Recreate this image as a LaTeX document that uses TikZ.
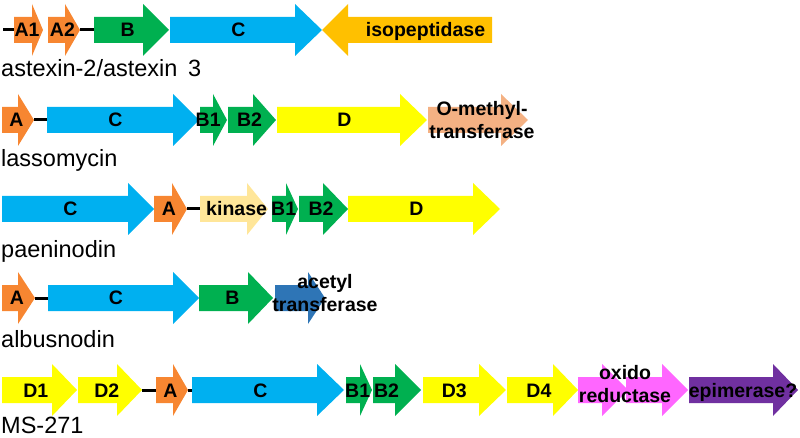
\documentclass[tikz,border=0pt]{standalone}
\usepackage{fontspec}
\usepackage{xcolor}
\usepackage{tikz}
\usetikzlibrary{calc}

\newfontfamily\arialfont{Liberation Sans}
\newcommand{\genefont}{\arialfont\bfseries\fontsize{19.5}{23}\selectfont}
\newcommand{\rowfont}{\arialfont\fontsize{23.5}{26}\selectfont}

\definecolor{geneA}{RGB}{247,134,49}
\definecolor{geneB}{RGB}{0,176,80}
\definecolor{geneC}{RGB}{0,176,240}
\definecolor{geneD}{RGB}{255,255,0}
\definecolor{isopep}{RGB}{255,192,0}
\definecolor{methyl}{RGB}{244,177,131}
\definecolor{kinase}{RGB}{255,230,153}
\definecolor{acetyl}{RGB}{46,117,182}
\definecolor{oxred}{RGB}{255,102,255}
\definecolor{epimer}{RGB}{112,48,160}

\tikzset{
  genetxt/.style={font=\genefont, text=black, inner sep=0pt, text height=14pt, text depth=0pt},
  multitxt/.style={font=\genefont, text=black, inner sep=0pt, align=center},
  rowlbl/.style={font=\rowfont, text=black, inner sep=0pt, anchor=base west},
  link/.style={line width=3pt, black}
}

% #2 name, #3 tail, #4 neck, #5 tip, #6 row, #7 colour, #8 text
\newcommand{\gene}[8][]{%
  \fill[#7] (#3,#6-13) -- (#4,#6-13) -- (#4,#6-26) -- (#5,#6)
    -- (#4,#6+26) -- (#4,#6+13) -- (#3,#6+13) -- cycle;
  \coordinate (#2-tail) at (#3,#6);
  \coordinate (#2-tip) at (#5,#6);
  \node[genetxt,#1] (#2) at ($(#2-tail)!0.45!(#2-tip)$) {#8};
}

\begin{document}
\begin{tikzpicture}[x=1pt, y=-1pt]
\useasboundingbox (0,0) rectangle (800,438);

\coordinate (astStart) at (3,30);
\gene{astA1}{14}{32}{43}{30}{geneA}{A1}
\gene{astA2}{48}{65}{80}{30}{geneA}{A2}
\gene{astB}{94}{143}{169}{30}{geneB}{B}
\gene{astC}{170}{295}{322}{30}{geneC}{C}
\gene[xshift=10pt]{astIso}{492}{348}{322}{30}{isopep}{isopeptidase}
\draw[link] (astStart) -- (astA1-tail);
\draw[link] (astA2-tip) -- (astB-tail);
\node[rowlbl] (astLbl) at (1,77) {astexin-2/astexin\hspace{0.45em}3};

\gene{lasA}{2}{18}{34}{120}{geneA}{A}
\gene{lasC}{47}{173}{199}{120}{geneC}{C}
\gene[xshift=-4pt]{lasB1}{200}{213}{227}{120}{geneB}{B1}
\gene{lasB2}{228}{253}{276}{120}{geneB}{B2}
\gene{lasD}{277}{400}{427}{120}{geneD}{D}
\gene{lasMT}{428}{501}{528}{120}{methyl}{}
\node[multitxt] (lasMTtxt) at ([xshift=9pt]lasMT) {O-methyl-\\transferase};
\draw[link] (lasA-tip) -- (lasC-tail);
\node[rowlbl] (lasLbl) at (1,167) {lassomycin};

\gene{paeC}{2}{128}{154}{209}{geneC}{C}
\gene{paeA}{154}{172}{187}{209}{geneA}{A}
\gene[xshift=6pt]{paeK}{200}{247}{268}{209}{kinase}{kinase}
\gene{paeB1}{272}{286}{298}{209}{geneB}{B1}
\gene{paeB2}{299}{323}{348}{209}{geneB}{B2}
\gene{paeD}{348}{473}{500}{209}{geneD}{D}
\draw[link] (paeA-tip) -- (paeK-tail);
\node[rowlbl] (paeLbl) at (1,258) {paeninodin};

\gene{albA}{2}{18}{35}{298}{geneA}{A}
\gene{albC}{48}{173}{199}{298}{geneC}{C}
\gene{albB}{199}{248}{273}{298}{geneB}{B}
\gene{albAT}{275}{308}{325}{298}{acetyl}{}
\node[multitxt] (albATtxt) at ([xshift=27.5pt,yshift=5pt]albAT) {acetyl\\transferase};
\draw[link] (albA-tip) -- (albC-tail);
\node[rowlbl] (albLbl) at (1,347) {albusnodin};

\gene{msD1}{2}{52}{77}{390}{geneD}{D1}
\gene{msD2}{78}{117}{142}{390}{geneD}{D2}
\gene{msA}{156}{173}{188}{390}{geneA}{A}
\gene{msC}{192}{317}{344}{390}{geneC}{C}
\gene{msB1}{346}{360}{372}{390}{geneB}{B1}
\gene[xshift=-8pt]{msB2}{373}{395}{421}{390}{geneB}{B2}
\gene[xshift=-6pt]{msD3}{423}{479}{506}{390}{geneD}{D3}
\gene{msD4}{507}{553}{578}{390}{geneD}{D4}
\gene{msOx1}{578}{602}{628}{390}{oxred}{}
\gene{msOx2}{626}{662}{688}{390}{oxred}{}
\gene[xshift=5pt]{msEp}{689}{773}{798}{390}{epimer}{epimerase?}
\node[multitxt] (msOxtxt) at ([xshift=-3pt,yshift=5.5pt]msOx1-tip) {oxido\\reductase};
\draw[link] (msD2-tip) -- (msA-tail);
\draw[link] (msA-tip) -- (msC-tail);
\node[rowlbl] (msLbl) at (1,433) {MS-271};
\end{tikzpicture}
\end{document}
